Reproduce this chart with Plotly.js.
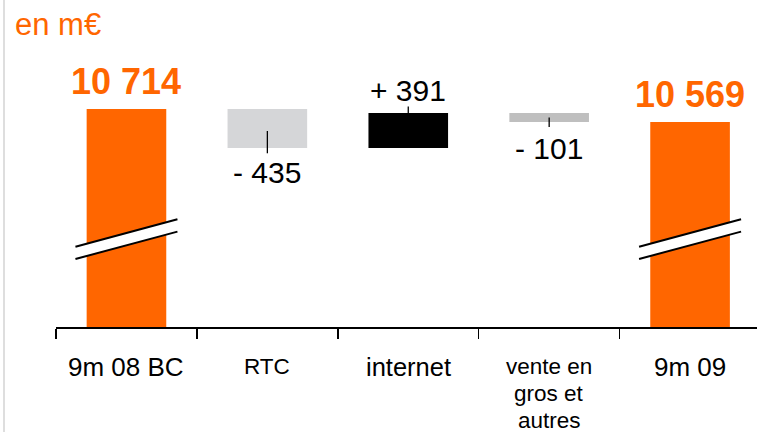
<!DOCTYPE html>
<html>
<head>
<meta charset="utf-8">
<script src="https://cdn.plot.ly/plotly-3.0.1.min.js"></script>
<style>
  html, body { margin: 0; padding: 0; background: #fff; }
  #wrap { position: relative; width: 757px; height: 432px; }
  #edge { position: absolute; left: 3px; top: 0; width: 2px; height: 432px; background: #dedede; z-index: 5; }
  #chart { width: 757px; height: 432px; }
</style>
</head>
<body>
<div id="wrap"><div id="edge"></div><div id="chart"></div></div>
<script>
// ---- data ----
const categories = ['9m 08 BC', 'RTC', 'internet', 'vente en<br>gros et<br>autres', '9m 09'];
const startTotal = 10714;
const changes = [-435, 391, -101];
const endTotal = 10569;
const totalLabels = ['10 714', '10 569'];
const changeLabels = ['- 435', '+ 391', '- 101'];
const unitLabel = 'en m€';

// ---- style ----
const orange = '#FF6600';
const colors = [orange, '#D5D6D8', '#000000', '#BFBFBF', orange];
const axisFloor = 8283;     // broken axis: value shown at the baseline
const axisTop = 11929;
const labelFont = 'Liberation Sans, Arial, Helvetica, sans-serif';
const catFontSizes = [26, 22.5, 25.5, 22.5, 26];
const changeLabelShift = [-24.8, 22.5, -26.6];    // px from bar edge
const leaderPix = [[17, -5.3], [0, 6.5], [4.4, -5]]; // px from bar edge
const breakValue = 9262;

// ---- build waterfall bars ----
const bases = [axisFloor];
const heights = [startTotal - axisFloor];
const edges = [];
let run = startTotal;
changes.forEach(d => {
  const next = run + d;
  bases.push(Math.min(run, next));
  heights.push(Math.abs(d));
  edges.push(next);
  run = next;
});
bases.push(axisFloor);
heights.push(endTotal - axisFloor);

const trace = {
  type: 'bar',
  x: categories,
  y: heights,
  base: bases,
  width: 0.565,
  marker: { color: colors, line: { width: 0 } },
  hoverinfo: 'skip'
};

const annotations = [];
const shapes = [];

// title
annotations.push({
  text: unitLabel, xref: 'paper', yref: 'paper', x: 0, y: 1,
  xanchor: 'left', yanchor: 'middle', xshift: -43, yshift: -24.2,
  showarrow: false, font: { family: labelFont, size: 31, color: orange }
});

// totals
[[0, startTotal, totalLabels[0]], [4, endTotal, totalLabels[1]]].forEach(([i, v, t]) => {
  annotations.push({
    text: t, x: i, y: v, xref: 'x', yref: 'y', xanchor: 'center', yanchor: 'middle',
    yshift: 27, showarrow: false,
    font: { family: labelFont, size: 36, color: orange, weight: 'bold' }
  });
});

// changes: labels and leader lines
changes.forEach((d, k) => {
  const i = k + 1;
  annotations.push({
    text: changeLabels[k], x: i, y: edges[k], xref: 'x', yref: 'y',
    xanchor: 'center', yanchor: 'middle', yshift: changeLabelShift[k], showarrow: false,
    font: { family: labelFont, size: 30, color: '#000' }
  });
  shapes.push({
    type: 'line', xref: 'x', yref: 'y', x0: i, x1: i,
    ysizemode: 'pixel', yanchor: edges[k], y0: leaderPix[k][0], y1: leaderPix[k][1],
    line: { color: '#000', width: 1.3 }
  });
});

// axis-break marks on the total bars
[0, 4].forEach(i => {
  const common = { xref: 'x', yref: 'y', xsizemode: 'pixel', ysizemode: 'pixel', xanchor: i, yanchor: breakValue };
  shapes.push(Object.assign({ type: 'path', path: 'M-51,-7.5 L51,20 L51,7.6 L-51,-19.8 Z', fillcolor: '#fff', line: { width: 0 } }, common));
  shapes.push(Object.assign({ type: 'path', path: 'M-51,-7.5 L51,20', line: { color: '#000', width: 2 } }, common));
  shapes.push(Object.assign({ type: 'path', path: 'M-51,-19.8 L51,7.6', line: { color: '#000', width: 2 } }, common));
});

// category labels (line by line)
categories.forEach((c, i) => {
  c.split('<br>').forEach((line, j) => {
    annotations.push({
      text: line, x: i, y: 0, xref: 'x', yref: 'paper', xanchor: 'center', yanchor: 'middle',
      yshift: -39.5 - 27 * j, showarrow: false,
      font: { family: labelFont, size: catFontSizes[i], color: '#000' }
    });
  });
});

const layout = {
  width: 757, height: 432,
  margin: { l: 56, r: 0, t: 0, b: 105 },
  paper_bgcolor: '#fff', plot_bgcolor: '#fff',
  showlegend: false,
  bargap: 0.4,
  xaxis: {
    type: 'category', range: [-0.5, 4.475], fixedrange: true,
    tickson: 'boundaries', ticks: 'outside', ticklen: 10, tickwidth: 1.5, tickcolor: '#000',
    showline: true, linecolor: '#000', linewidth: 1.5,
    showticklabels: false, showgrid: false, zeroline: false
  },
  yaxis: { range: [axisFloor, axisTop], visible: false, fixedrange: true },
  annotations: annotations,
  shapes: shapes
};

Plotly.newPlot('chart', [trace], layout, { displayModeBar: false, staticPlot: true });
</script>
</body>
</html>
